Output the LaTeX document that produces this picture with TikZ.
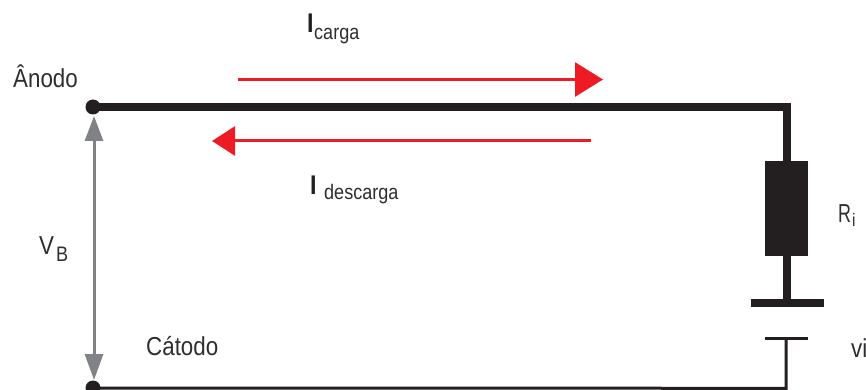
\documentclass[tikz,border=0pt]{standalone}
\usepackage{fontspec}
\setmainfont[FakeStretch=0.86]{Liberation Sans}
\usetikzlibrary{arrows.meta}
\definecolor{ink}{HTML}{231F20}
\definecolor{redarrow}{HTML}{ED1C24}
\definecolor{greyarrow}{HTML}{808285}
\definecolor{labeltext}{HTML}{2E2E30}
\tikzset{
  wire/.style={draw=ink,line width=8pt,line cap=butt,line join=miter},
  thinwire/.style={draw=ink,line width=3pt,line join=miter},
  terminal/.style={circle,fill=ink,inner sep=0pt,minimum size=15pt},
  current/.style={draw=redarrow,line width=3pt,-{Triangle[length=28pt,width=34pt,fill=redarrow]}},
  voltage/.style={draw=greyarrow,line width=3pt,{Triangle[length=25pt,width=18pt,fill=greyarrow]}-{Triangle[length=26pt,width=18pt,fill=greyarrow]}},
  lbl/.style={inner sep=0pt,anchor=base west,text=labeltext,font=\fontsize{26}{30}\selectfont},
  sublbl/.style={inner sep=0pt,anchor=base west,text=labeltext,font=\fontsize{21}{24}\selectfont},
  boldlbl/.style={inner sep=0pt,anchor=base west,text=ink,font=\bfseries\fontsize{27}{30}\selectfont}
}
\begin{document}
\begin{tikzpicture}[x=1pt,y=-1pt]
\useasboundingbox (0,0) rectangle (866,390);
% terminals
\node[terminal] (anode) at (93,107) {};
\node[terminal] (cathode) at (93,388) {};
% components
\node[draw=none,fill=ink,minimum width=43pt,minimum height=95pt,inner sep=0pt] (ri) at (786,208.3) {};
\node[fill=ink,minimum width=73pt,minimum height=8.3pt,inner sep=0pt] (plateP) at (787.5,303.2) {};
\node[fill=ink,minimum width=43pt,minimum height=3pt,inner sep=0pt] (plateN) at (786,338.8) {};
\coordinate (corner) at (786.7,107);
\coordinate (cornerB) at (786,388.3);
% wires
\draw[wire] (anode.center) -- (corner) -- (corner |- ri.north);
\draw[wire] (corner |- ri.south) -- (corner |- plateP.north);
\draw[thinwire] (plateN.center) -- (cornerB) -- (cathode.center);
% voltage
\coordinate (vtop) at (94,116);
\coordinate (vbot) at (94,380);
\draw[voltage] (vtop) -- (vbot);
% currents
\coordinate (c1a) at (238,79.5);
\coordinate (c1b) at (603,79.5);
\coordinate (c2a) at (591,141);
\coordinate (c2b) at (212,141);
\draw[current] (c1a) -- (c1b);
\draw[current,-{Triangle[length=23pt,width=29pt,fill=redarrow]}] (c2a) -- (c2b);
% labels
\node[lbl] (anodo) at (13,88) {Ânodo};
\node[lbl] (catodo) at (146,355) {Cátodo};
\node[lbl] (vb) at (39,254) {V};
\node[sublbl] (vbs) at (56,261) {B};
\node[lbl,xscale=0.8] (rl) at (838,222) {R};
\node[sublbl,font=\fontsize{18}{20}\selectfont] (rls) at (852,226) {i};
\node[lbl] (vi) at (851,357) {vi};
\node[boldlbl] (ic) at (307,33) {I};
\node[sublbl] (ics) at (314,39.5) {carga};
\node[boldlbl] (id) at (310,194) {I};
\node[sublbl] (ids) at (324,199.5) {descarga};
\end{tikzpicture}
\end{document}
